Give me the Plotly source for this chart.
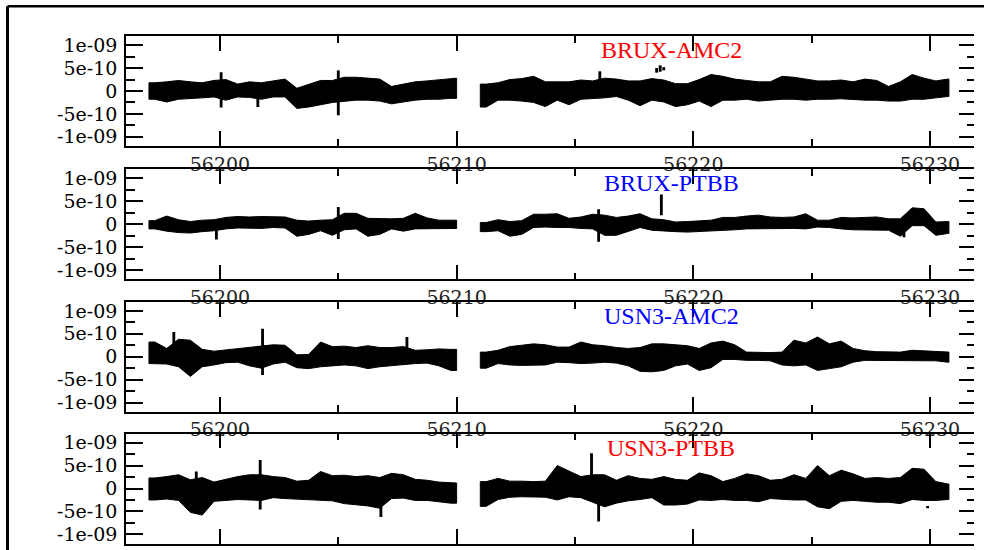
import plotly.graph_objects as go

# ---------------- data (values in units of 1e-10) ----------------
bin_start = [56197.0, 56197.5, 56198.0, 56198.5, 56199.0, 56199.5, 56200.0, 56200.5,
             56201.0, 56201.5, 56202.0, 56202.5, 56203.0, 56203.5, 56204.0, 56204.5,
             56205.0, 56205.5, 56206.0, 56206.5, 56207.0, 56207.5, 56208.0, 56208.5,
             56209.0, 56209.5,
             56211.0, 56211.5, 56212.0, 56212.5, 56213.0, 56213.5, 56214.0, 56214.5,
             56215.0, 56215.5, 56216.0, 56216.5, 56217.0, 56217.5, 56218.0, 56218.5,
             56219.0, 56219.5, 56220.0, 56220.5, 56221.0, 56221.5, 56222.0, 56222.5,
             56223.0, 56223.5, 56224.0, 56224.5, 56225.0, 56225.5, 56226.0, 56226.5,
             56227.0, 56227.5, 56228.0, 56228.5, 56229.0, 56229.5, 56230.0, 56230.5]
BIN = 0.5
segment_end = [56210.0, 56230.8]   # end of the two recorded stretches (gap in between)

titles = ["BRUX-AMC2", "BRUX-PTBB", "USN3-AMC2", "USN3-PTBB"]
title_colors = ["#ff0000", "#0000ff", "#0000ff", "#ff0000"]

# BRUX-AMC2
brux_amc2_upper = [1.8, 2.0, 2.3, 2.0, 1.8, 2.3, 2.5, 1.5, 2.0, 1.8, 2.2, 2.6, 0.6, 1.5, 2.3, 2.3,
                   3.0, 3.0, 2.8, 2.6, 1.0, 1.5, 2.0, 2.2, 2.5, 2.8,
                   1.5, 1.8, 2.5, 2.7, 3.2, 2.0, 2.0, 2.0, 2.4, 2.2, 2.8, 2.6, 2.2, 2.2, 2.7, 2.4,
                   1.6, 1.6, 2.5, 3.6, 3.2, 2.6, 2.3, 2.0, 2.0, 3.2, 3.0, 2.6, 2.2, 2.2, 2.4, 2.0,
                   2.6, 2.3, 1.0, 2.0, 3.6, 2.8, 2.2, 2.6]
brux_amc2_lower = [-1.8, -2.4, -1.8, -1.6, -1.5, -1.3, -2.0, -1.3, -1.4, -1.8, -1.3, -1.3, -3.8, -3.5, -3.0, -2.5,
                   -2.2, -2.0, -2.0, -2.2, -2.8, -2.4, -2.0, -1.8, -1.8, -1.6,
                   -3.5, -2.0, -2.0, -2.2, -2.5, -3.4, -2.0, -3.0, -1.8, -1.7, -1.5, -1.2, -2.0, -3.2, -2.0, -2.4,
                   -3.4, -3.0, -2.2, -3.4, -2.0, -2.0, -1.8, -2.2, -2.0, -1.8, -1.8, -2.0, -1.8, -1.8, -1.7, -1.8,
                   -2.0, -2.0, -2.2, -2.2, -1.8, -1.8, -1.5, -1.2]
brux_amc2_spike_day = [56200.05, 56201.6, 56205.0, 56216.05, 56218.45, 56218.6, 56218.75]
brux_amc2_spike_lo = [-3.6, -3.5, -5.3, -1.5, 4.0, 4.2, 4.5]
brux_amc2_spike_hi = [4.1, 0.0, 4.5, 4.3, 5.0, 5.6, 5.2]

# BRUX-PTBB
brux_ptbb_upper = [0.8, 1.8, 1.0, 0.6, 0.9, 1.0, 1.5, 1.7, 1.6, 1.7, 1.6, 1.6, 0.9, 0.7, 0.9, 1.0,
                   2.4, 2.4, 1.3, 1.2, 1.2, 1.3, 2.4, 1.4, 0.9, 0.9,
                   0.4, 1.0, 0.6, 0.8, 2.2, 2.2, 2.3, 1.3, 1.6, 2.2, 2.0, 1.5, 1.8, 2.3, 1.2, 1.0,
                   0.5, 0.6, 0.8, 0.9, 1.5, 1.5, 1.8, 2.0, 1.6, 1.5, 1.6, 2.3, 0.9, 0.9, 1.5, 1.4,
                   1.5, 1.6, 1.2, 1.2, 3.6, 3.4, 0.5, 0.6]
brux_ptbb_lower = [-1.0, -1.5, -1.8, -1.9, -1.6, -1.4, -1.0, -0.8, -0.8, -0.9, -0.7, -0.8, -2.6, -2.2, -1.4, -2.4,
                   -1.2, -1.0, -2.6, -2.2, -1.0, -1.5, -1.0, -1.0, -1.0, -0.9,
                   -1.6, -1.4, -2.6, -2.2, -0.7, -0.6, -0.7, -0.7, -0.9, -1.0, -2.4, -2.4, -1.5, -0.7, -1.3, -1.4,
                   -1.6, -1.7, -1.6, -1.4, -1.3, -1.2, -1.0, -0.9, -0.9, -0.9, -0.9, -1.0, -0.6, -0.7, -1.0, -1.2,
                   -1.2, -1.3, -1.3, -2.6, -0.3, -0.3, -2.4, -2.0]
brux_ptbb_spike_day = [56199.85, 56205.0, 56216.0, 56218.65, 56228.9]
brux_ptbb_spike_lo = [-3.3, -3.2, -3.8, 2.0, -2.8]
brux_ptbb_spike_hi = [0.0, 3.8, 3.3, 6.5, -1.6]

# USN3-AMC2
usn3_amc2_upper = [3.2, 1.8, 3.8, 3.6, 1.6, 1.2, 1.5, 1.8, 2.0, 2.4, 2.6, 2.5, 0.4, 0.5, 3.2, 2.2,
                   2.3, 2.0, 2.4, 2.0, 2.0, 2.2, 1.4, 1.5, 1.7, 1.6,
                   1.0, 1.4, 2.2, 2.5, 2.8, 2.6, 2.1, 2.1, 3.2, 2.6, 2.4, 2.0, 1.8, 2.0, 2.8, 2.8,
                   2.6, 2.4, 1.8, 3.0, 3.4, 2.6, 1.0, 0.9, 0.9, 1.0, 3.6, 3.0, 4.3, 2.8, 3.4, 1.8,
                   1.3, 1.1, 1.0, 1.0, 1.4, 1.3, 1.2, 1.0]
usn3_amc2_lower = [-1.5, -1.6, -2.2, -4.3, -2.2, -1.8, -1.3, -1.2, -2.0, -2.5, -1.6, -1.2, -2.4, -2.6, -2.2, -2.0,
                   -1.8, -2.0, -2.6, -2.2, -1.9, -1.7, -1.5, -1.4, -2.0, -3.0,
                   -2.5, -1.5, -1.8, -1.9, -1.9, -1.8, -1.2, -1.3, -1.5, -1.4, -1.2, -1.4, -2.0, -3.2, -3.3, -3.0,
                   -2.0, -1.6, -3.0, -2.4, -0.6, -0.6, -0.8, -0.8, -0.9, -1.8, -2.0, -1.8, -3.0, -2.6, -2.2, -1.2,
                   -0.8, -0.8, -0.9, -0.9, -0.8, -0.9, -0.9, -1.2]
usn3_amc2_spike_day = [56198.05, 56201.8, 56207.9]
usn3_amc2_spike_lo = [-1.0, -4.0, -1.0]
usn3_amc2_spike_hi = [5.4, 6.1, 4.3]

# USN3-PTBB
usn3_ptbb_upper = [2.3, 2.6, 3.0, 1.9, 2.4, 1.4, 2.0, 2.6, 3.0, 3.0, 2.6, 2.4, 1.6, 1.8, 3.7, 2.8,
                   2.9, 2.6, 2.8, 2.4, 3.3, 3.0, 2.0, 1.8, 1.4, 1.2,
                   1.5, 2.2, 1.6, 1.6, 1.5, 1.6, 5.0, 3.8, 2.6, 3.0, 3.0, 1.8, 2.8, 2.2, 2.0, 2.6,
                   2.0, 1.8, 3.4, 2.8, 1.5, 2.2, 3.2, 2.8, 1.8, 2.0, 3.0, 2.2, 5.0, 2.8, 4.0, 3.2,
                   2.2, 2.4, 2.2, 2.4, 4.4, 4.2, 1.5, 1.0]
usn3_ptbb_lower = [-2.5, -2.3, -2.6, -5.2, -5.8, -2.8, -2.6, -2.4, -2.5, -2.6, -2.0, -2.2, -2.3, -2.4, -2.6, -2.7,
                   -3.3, -3.5, -3.8, -4.3, -2.2, -2.1, -2.6, -2.6, -2.9, -3.2,
                   -3.9, -2.4, -1.9, -1.8, -1.8, -1.9, -2.5, -1.8, -2.0, -3.0, -4.0, -3.2, -2.7, -2.4, -2.0, -3.6,
                   -3.6, -3.4, -2.5, -2.6, -2.4, -2.6, -2.6, -2.9, -2.2, -2.4, -2.5, -2.5, -4.0, -4.4, -2.8, -2.6,
                   -2.8, -3.0, -3.0, -3.3, -2.4, -2.6, -2.6, -2.4]
usn3_ptbb_spike_day = [56199.0, 56201.7, 56206.8, 56215.7, 56216.0, 56229.9]
usn3_ptbb_spike_lo = [-2.0, -4.6, -6.2, -2.0, -7.2, -4.3]
usn3_ptbb_spike_hi = [3.7, 6.2, 0.0, 7.7, 0.0, -3.8]

x_tick_vals = [56200, 56210, 56220, 56230]
x_tick_text = ["56200", "56210", "56220", "56230"]
y_tick_vals = [-1e-09, -5e-10, 0, 5e-10, 1e-09]
y_tick_text = ["-1e-09", "-5e-10", "0", "5e-10", "1e-09"]

UNIT = 1e-10
panels = [
    (brux_amc2_upper, brux_amc2_lower, brux_amc2_spike_day, brux_amc2_spike_lo, brux_amc2_spike_hi),
    (brux_ptbb_upper, brux_ptbb_lower, brux_ptbb_spike_day, brux_ptbb_spike_lo, brux_ptbb_spike_hi),
    (usn3_amc2_upper, usn3_amc2_lower, usn3_amc2_spike_day, usn3_amc2_spike_lo, usn3_amc2_spike_hi),
    (usn3_ptbb_upper, usn3_ptbb_lower, usn3_ptbb_spike_day, usn3_ptbb_spike_lo, usn3_ptbb_spike_hi),
]


def band_polygon(up, lo):
    """Closed envelope polygons (one per recorded stretch), separated by None."""
    stretches = [[]]
    for k, d in enumerate(bin_start):
        if k > 0 and d - bin_start[k - 1] > BIN + 1e-9:
            stretches.append([])
        stretches[-1].append(k)
    xs, ys = [], []
    for s_i, idx in enumerate(stretches):
        x_top = [bin_start[idx[0]]] + [bin_start[k] + BIN / 2 for k in idx] + [segment_end[s_i]]
        y_top = [up[idx[0]]] + [up[k] for k in idx] + [up[idx[-1]]]
        y_bot = [lo[idx[0]]] + [lo[k] for k in idx] + [lo[idx[-1]]]
        xs += x_top + x_top[::-1] + [x_top[0], None]
        ys += [v * UNIT for v in y_top] + [v * UNIT for v in y_bot[::-1]] + [y_top[0] * UNIT, None]
    return xs, ys


# ---------------- layout geometry (pixels) ----------------
W, H = 984, 550
x_left, x_right = 126, 974
panel_tops = [36, 169.3, 301.7, 433.5]
panel_h = 110
X_RANGE = [56196.03, 56231.86]
Y_RANGE = [-1.2e-09, 1.2e-09]

fig = go.Figure()
layout = dict(
    width=W, height=H,
    margin=dict(l=0, r=0, t=0, b=0, autoexpand=False),
    paper_bgcolor="white", plot_bgcolor="white",
    showlegend=False, barmode="overlay",
)

y_tick_font = dict(family="DejaVu Serif", size=19, color="black")
x_tick_font = dict(family="DejaVu Serif", size=19, color="#222222")
annotations = []
for i, (up, lo, sd, slo, shi) in enumerate(panels):
    n = i + 1
    xa = "x" if n == 1 else f"x{n}"
    ya = "y" if n == 1 else f"y{n}"
    yr = f"y{n + 4}"
    top = panel_tops[i]
    bot = top + panel_h
    ydom = [1 - bot / H, 1 - top / H]

    px, py = band_polygon(up, lo)
    fig.add_trace(go.Scatter(
        x=px, y=py, mode="lines", fill="toself", fillcolor="black",
        line=dict(color="black", width=1), xaxis=xa, yaxis=ya,
        hoverinfo="skip", showlegend=False))
    fig.add_trace(go.Bar(
        x=sd, y=[(h - l) * UNIT for h, l in zip(shi, slo)],
        base=[l * UNIT for l in slo], width=0.12, offset=-0.06,
        marker=dict(color="black", line=dict(width=0)),
        xaxis=xa, yaxis=ya, hoverinfo="skip"))
    # dummy trace for the right-hand tick axis
    fig.add_trace(go.Scatter(x=[None], y=[None], xaxis=xa, yaxis=yr,
                             showlegend=False, hoverinfo="skip"))

    layout["xaxis" if n == 1 else f"xaxis{n}"] = dict(
        domain=[x_left / W, x_right / W], range=X_RANGE, anchor=ya,
        showline=True, linecolor="black", linewidth=1.6, mirror="ticks",
        ticks="inside", ticklen=15, tickwidth=1.5, tickcolor="black",
        tickmode="array", tickvals=x_tick_vals, ticktext=x_tick_text,
        tickfont=x_tick_font, ticklabelstandoff=0, automargin=False,
        minor=dict(tickmode="linear", tick0=56195, dtick=5, ticks="inside",
                   ticklen=7, tickwidth=1.5, tickcolor="black", showgrid=False),
        showgrid=False, zeroline=False, fixedrange=True)
    layout["yaxis" if n == 1 else f"yaxis{n}"] = dict(
        domain=ydom, range=Y_RANGE, anchor=xa,
        showline=True, linecolor="black", linewidth=1.6, mirror=False,
        ticks="inside", ticklen=17, tickwidth=1.5, tickcolor="black",
        tickmode="array", tickvals=y_tick_vals, ticktext=y_tick_text,
        tickfont=y_tick_font, ticklabelstandoff=3, automargin=False,
        minor=dict(tickmode="linear", tick0=0, dtick=2.5e-10, ticks="inside",
                   ticklen=9, tickwidth=1.5, tickcolor="black", showgrid=False),
        showgrid=False, zeroline=False, fixedrange=True)
    layout[f"yaxis{n + 4}"] = dict(
        range=Y_RANGE, overlaying=ya, anchor=xa, side="right",
        showline=False, ticks="inside", ticklen=15, tickwidth=1.5, tickcolor="black",
        tickmode="array", tickvals=y_tick_vals, showticklabels=False, automargin=False,
        minor=dict(tickmode="linear", tick0=0, dtick=2.5e-10, ticks="inside",
                   ticklen=7, tickwidth=1.5, tickcolor="black", showgrid=False),
        showgrid=False, zeroline=False, fixedrange=True)

    annotations.append(dict(
        text=titles[i], xref=f"{xa} domain", yref=f"{ya} domain",
        x=0.643, y=1 - 14 / panel_h, xanchor="center", yanchor="middle",
        showarrow=False,
        font=dict(family="Liberation Serif", size=24, color=title_colors[i])))

layout["annotations"] = annotations
fx = 7.5 / W
fy = 1 - 6.3 / H
layout["shapes"] = [
    dict(type="line", xref="paper", yref="paper", x0=fx, x1=fx, y0=0, y1=fy,
         line=dict(color="black", width=3)),
    dict(type="line", xref="paper", yref="paper", x0=fx, x1=1, y0=fy, y1=fy,
         line=dict(color="black", width=2.5)),
]
fig.update_layout(**layout)
fig.write_html("out.html")
